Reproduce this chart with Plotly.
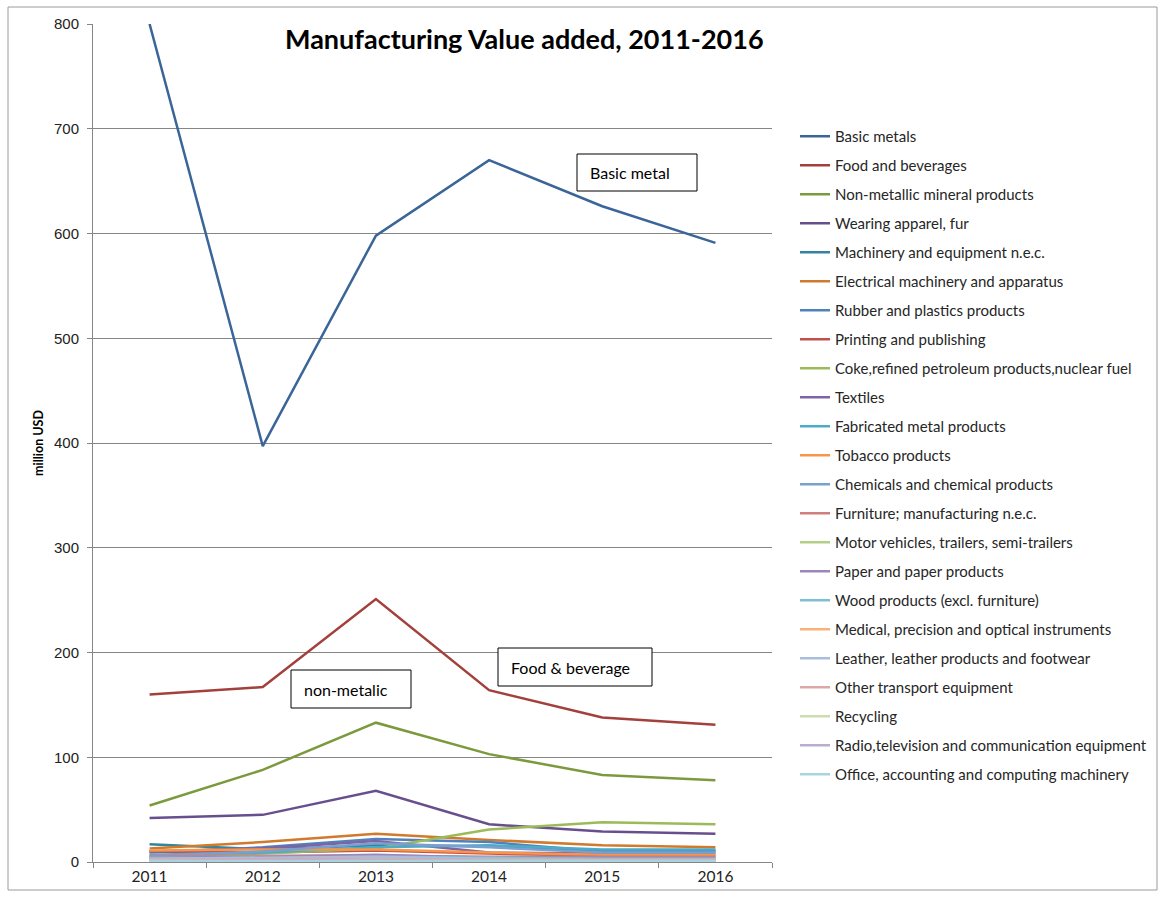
import plotly.graph_objects as go

years = ["2011", "2012", "2013", "2014", "2015", "2016"]

series_names = [
    "Basic metals",
    "Food and beverages",
    "Non-metallic mineral products",
    "Wearing apparel, fur",
    "Machinery and equipment n.e.c.",
    "Electrical machinery and apparatus",
    "Rubber and plastics products",
    "Printing and publishing",
    "Coke,refined petroleum products,nuclear fuel",
    "Textiles",
    "Fabricated metal products",
    "Tobacco products",
    "Chemicals and chemical products",
    "Furniture; manufacturing n.e.c.",
    "Motor vehicles, trailers, semi-trailers",
    "Paper and paper products",
    "Wood products (excl. furniture)",
    "Medical, precision and optical instruments",
    "Leather, leather products and footwear",
    "Other transport equipment",
    "Recycling",
    "Radio,television and communication equipment",
    "Office, accounting and computing machinery",
]

basic_metals = [800, 397, 598, 670, 626, 591]
food_beverages = [160, 167, 251, 164, 138, 131]
non_metallic = [54, 88, 133, 103, 83, 78]
wearing_apparel = [42, 45, 68, 36, 29, 27]
machinery = [17, 12, 16, 15, 11, 11]
electrical = [13, 19, 27, 21, 16, 14]
rubber_plastics = [9, 14, 22, 19, 10, 10]
printing = [10, 9, 11, 8, 6, 6]
coke_petroleum = [6, 8, 13, 31, 38, 36]
textiles = [10, 13, 20, 9, 8, 8]
fabricated_metal = [7, 9, 14, 16, 12, 12]
tobacco = [11, 12, 12, 9, 7, 7]
chemicals = [6, 10, 18, 14, 9, 9]
furniture = [5, 6, 6, 5, 5, 5]
motor_vehicles = [4, 5, 6, 4, 3, 3]
paper = [4, 5, 7, 4, 4, 4]
wood = [3, 4, 5, 4, 3, 3]
medical = [2, 2, 3, 2, 2, 2]
leather = [3, 4, 5, 3, 2, 2]
other_transport = [2, 3, 3, 2, 2, 2]
recycling = [1, 1, 2, 1, 1, 1]
radio_tv = [1, 2, 2, 1, 1, 1]
office = [1, 1, 1, 1, 1, 1]

series_values = [
    basic_metals, food_beverages, non_metallic, wearing_apparel, machinery,
    electrical, rubber_plastics, printing, coke_petroleum, textiles,
    fabricated_metal, tobacco, chemicals, furniture, motor_vehicles, paper,
    wood, medical, leather, other_transport, recycling, radio_tv, office,
]

series_colors = [
    "#3A6598", "#A3403C", "#7C9A3D", "#674F8E", "#31849B", "#D07A2E",
    "#4F81BD", "#C0504D", "#9BBB59", "#8064A2", "#4BACC6", "#F79646",
    "#7B9FD1", "#D07F7D", "#B3CE85", "#9C87BA", "#7CC0D8", "#F9B07A",
    "#A9BEDE", "#DDA8A7", "#CADDAE", "#BAADD0", "#A8D4E2",
]

fig = go.Figure()
for i, (name, vals, col) in enumerate(zip(series_names, series_values, series_colors)):
    fig.add_trace(go.Scatter(
        x=years, y=vals, name=name, mode="lines",
        line=dict(color=col, width=2.5),
        legendgroup=f"g{i:02d}",
    ))

W, H = 1164, 897
L, R, T, B = 93, 392, 24, 35
pw, ph = W - L - R, H - T - B


def px(x):
    return (x - L) / pw


def py(y):
    return (H - B - y) / ph


FONT = "Lato, Open Sans, sans-serif"

fig.update_layout(
    width=W, height=H,
    margin=dict(l=L, r=R, t=T, b=B),
    paper_bgcolor="white", plot_bgcolor="white",
    font=dict(family=FONT, size=14, color="#222222"),
    showlegend=True,
    legend=dict(
        x=px(795), y=py(120), xanchor="left", yanchor="top",
        font=dict(family=FONT, size=15, color="#262626"),
        tracegroupgap=6.5, traceorder="grouped",
        bgcolor="rgba(0,0,0,0)",
    ),
    xaxis=dict(
        type="category", range=[-0.5, 5.5],
        showgrid=False, showline=True, linecolor="#868686", linewidth=1,
        ticks="outside", tickson="boundaries", ticklen=5, tickcolor="#868686",
        tickfont=dict(family=FONT, size=15.5, color="#222222"),
        zeroline=False,
    ),
    yaxis=dict(
        range=[0, 800], dtick=100,
        showgrid=True, gridcolor="#868686", gridwidth=1,
        showline=True, linecolor="#868686", linewidth=1,
        ticks="outside", ticklen=5, tickcolor="#868686",
        ticklabelstandoff=5,
        tickfont=dict(family="Liberation Sans, Arial, sans-serif", size=15, color="#222222"),
        zeroline=False,
        title=dict(text="<b>million USD</b>", standoff=7,
                   font=dict(family=FONT, size=12.5, color="#000000")),
    ),
)

# Chart title
fig.add_annotation(
    text="<b>Manufacturing Value added, 2011-2016</b>",
    xref="paper", yref="paper", x=px(524), y=py(38),
    showarrow=False, xanchor="center", yanchor="middle",
    font=dict(family=FONT, size=27, color="#000000"),
)

# Boxed callouts for the main series
callouts = [
    ("Basic metal", 577, 697, 154, 191),
    ("Food & beverage", 498, 652, 648, 686),
    ("non-metalic", 291, 411, 670, 708),
]
for label, x0, x1, y0, y1 in callouts:
    fig.add_shape(type="rect", xref="paper", yref="paper",
                  x0=px(x0), x1=px(x1), y0=py(y1), y1=py(y0),
                  line=dict(color="#000000", width=1), fillcolor="white", layer="above")
    fig.add_annotation(
        text=label, xref="paper", yref="paper",
        x=px(x0 + 11), y=py((y0 + y1) / 2),
        showarrow=False, xanchor="left", yanchor="middle",
        font=dict(family=FONT, size=16, color="#000000"),
    )

# Outer chart border
fig.add_shape(type="rect", xref="paper", yref="paper",
              x0=px(8), x1=px(1157), y0=py(890), y1=py(7),
              line=dict(color="#9a9a9a", width=1), layer="below")

fig.write_html("out.html")
